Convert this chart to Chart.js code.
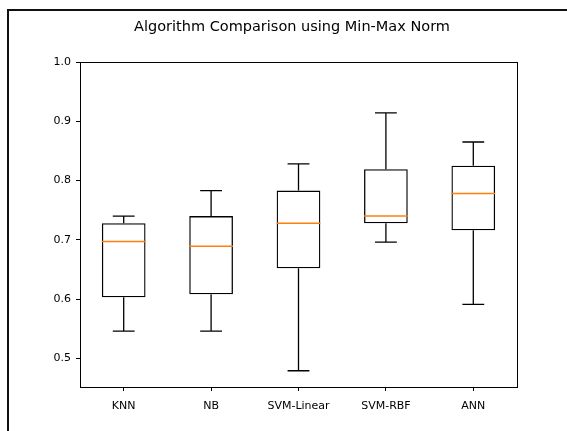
<!DOCTYPE html>
<html>
<head>
<meta charset="utf-8">
<script src="https://cdn.jsdelivr.net/npm/chart.js@4.4.1/dist/chart.umd.min.js"></script>
<style>
  html, body { margin: 0; padding: 0; background: #fff; }
  #wrap { position: relative; width: 567px; height: 431px; overflow: hidden; }
  #frame {
    position: absolute; left: 7px; top: 9px; width: 700px; height: 600px;
    border-left: 2px solid #111; border-top: 2px solid #111; pointer-events: none;
  }
  canvas { position: absolute; left: 0; top: 0; }
</style>
</head>
<body>
<div id="wrap">
  <canvas id="chart" width="567" height="431"></canvas>
  <div id="frame"></div>
</div>
<script>
/** Data **/
const categories = ['KNN', 'NB', 'SVM-Linear', 'SVM-RBF', 'ANN'];
const whisker_low = [0.546, 0.546, 0.479, 0.696, 0.591];
const q1 = [0.603, 0.608, 0.652, 0.728, 0.716];
const medians = [0.697, 0.689, 0.728, 0.740, 0.778];
const q3 = [0.728, 0.740, 0.783, 0.819, 0.825];
const whisker_high = [0.740, 0.783, 0.828, 0.914, 0.865];
const y_ticks = [0.5, 0.6, 0.7, 0.8, 0.9, 1.0];
const chart_title = 'Algorithm Comparison using Min-Max Norm';

const font_family = '"DejaVu Sans", sans-serif';
const median_color = '#ff7f0e';

// whiskers, caps and medians, placed with the chart scales
const boxExtras = {
    id: 'boxExtras',
    afterDatasetsDraw(chart) {
        const ctx = chart.ctx;
        const xs = chart.scales.x;
        const ys = chart.scales.y;
        const step = xs.getPixelForValue(1) - xs.getPixelForValue(0);
        const half_box = step * 0.25;
        const half_cap = step * 0.125;
        ctx.save();
        ctx.lineWidth = 1.3;
        categories.forEach(function(c, i) {
            const x = xs.getPixelForValue(i);
            ctx.strokeStyle = '#000';
            ctx.beginPath();
            ctx.moveTo(x, ys.getPixelForValue(q3[i]));
            ctx.lineTo(x, ys.getPixelForValue(whisker_high[i]));
            ctx.moveTo(x, ys.getPixelForValue(q1[i]));
            ctx.lineTo(x, ys.getPixelForValue(whisker_low[i]));
            ctx.moveTo(x - half_cap, ys.getPixelForValue(whisker_high[i]));
            ctx.lineTo(x + half_cap, ys.getPixelForValue(whisker_high[i]));
            ctx.moveTo(x - half_cap, ys.getPixelForValue(whisker_low[i]));
            ctx.lineTo(x + half_cap, ys.getPixelForValue(whisker_low[i]));
            ctx.stroke();
            // median
            ctx.strokeStyle = median_color;
            ctx.lineWidth = 1.5;
            ctx.beginPath();
            ctx.moveTo(x - half_box, ys.getPixelForValue(medians[i]));
            ctx.lineTo(x + half_box, ys.getPixelForValue(medians[i]));
            ctx.stroke();
            ctx.lineWidth = 1.3;
        });
        ctx.restore();
    },
    afterDraw(chart) {
        const ctx = chart.ctx;
        const a = chart.chartArea;
        ctx.save();
        // axes spines
        ctx.strokeStyle = '#000';
        ctx.lineWidth = 1;
        ctx.strokeRect(Math.round(a.left) + 0.5, Math.round(a.top) + 0.5,
            Math.round(a.right - a.left), Math.round(a.bottom - a.top));
        // figure title
        ctx.fillStyle = '#000';
        ctx.font = '14.5px ' + font_family;
        ctx.textAlign = 'center';
        ctx.textBaseline = 'middle';
        ctx.fillText(chart_title, 292, 27);
        ctx.restore();
    }
};

new Chart(document.getElementById('chart'), {
    type: 'bar',
    data: {
        labels: categories,
        datasets: [{
            data: q1.map(function(v, i) { return [v, q3[i]]; }),
            backgroundColor: 'rgba(255,255,255,0)',
            borderColor: '#000',
            borderWidth: 1.3,
            borderSkipped: false,
            barPercentage: 0.5,
            categoryPercentage: 1.0
        }]
    },
    options: {
        responsive: false,
        animation: false,
        devicePixelRatio: 1,
        layout: { padding: { left: 0, right: 50, top: 62, bottom: 0 } },
        plugins: {
            legend: { display: false },
            tooltip: { enabled: false },
            title: { display: false }
        },
        scales: {
            x: {
                offset: true,
                border: { display: false },
                grid: { offset: false, drawOnChartArea: false, drawTicks: true, tickLength: 4, color: '#000' },
                ticks: { color: '#000', padding: 9, maxRotation: 0, font: { family: font_family, size: 11 } },
                afterFit: function(s) { s.height = 44; }
            },
            y: {
                min: 0.4516,
                max: 1.0,
                border: { display: false },
                grid: { drawOnChartArea: false, drawTicks: true, tickLength: 4, color: '#000' },
                ticks: {
                    color: '#000', padding: 5, font: { family: font_family, size: 11 },
                    callback: function(v) { return v.toFixed(1); }
                },
                afterBuildTicks: function(s) { s.ticks = y_ticks.map(function(v) { return { value: v }; }); },
                afterFit: function(s) { s.width = 80; }
            }
        }
    },
    plugins: [boxExtras]
});
</script>
</body>
</html>
